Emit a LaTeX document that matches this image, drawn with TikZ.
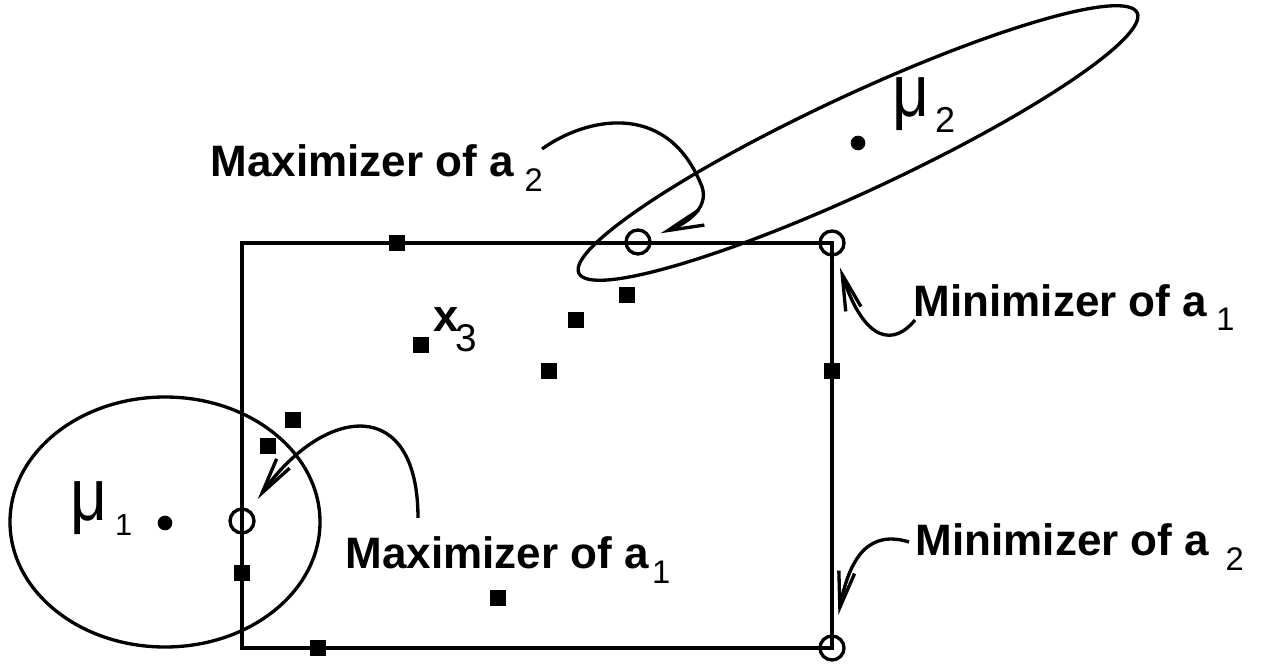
\documentclass[tikz,border=0pt]{standalone}
\usepackage{fontspec}
\setmainfont{Liberation Sans}
\usepackage{graphicx}
\usepackage{tikz}
\usetikzlibrary{arrows.meta}
\tikzset{%
    sample/.style={%
        rectangle, fill=black, minimum size=12pt, inner sep=0pt
    },
    hollow/.style={%
        circle, draw=black, minimum size=18pt, inner sep=0pt
    },
    centre/.style={%
        circle, fill=black, minimum size=11pt, inner sep=0pt
    },
    lbl/.style={%
        anchor=base west, inner sep=0pt, font=\fontsize{33}{36}\selectfont\bfseries
    },
    mulbl/.style={%
        anchor=base west, inner sep=0pt, font=\fontsize{48}{52}\selectfont
    },
    pointer/.style={%
        -{Straight Barb[length=27pt,width=12pt]}
    }
}
\newcommand{\subnum}[4][24.5]{\hspace{#2}\raisebox{-#3}{\fontsize{#1}{#1}\selectfont\mdseries #4}}

\begin{document}
\begin{tikzpicture}[x=0.75pt, y=-0.75pt, line width=2.5pt]
    \useasboundingbox (0,0) rectangle (1266,666);

    % box and the two level sets
    \draw (242,243) rectangle (832,648);
    \draw (165,522) ellipse [x radius=155, y radius=125];
    \draw [rotate around={25:(858,143)}] (858,143) ellipse [x radius=308, y radius=48];

    \node[centre] (mu1) at (165,523) {};
    \node[centre] (mu2) at (858,143) {};
    \node[mulbl] (mu1lbl) at (68.5,520) {\scalebox{1}[1.15]{μ}\subnum[23]{6pt}{11.5pt}{1}};
    \node[mulbl] (mu2lbl) at (890.5,117) {\scalebox{1}[1.15]{μ}\subnum[27]{4.5pt}{11.5pt}{2}};

    % samples
    \foreach \px/\py [count=\i] in {397/243, 627/295, 576/320, 549/371, 421/345, 293/420, 268/446, 242/573, 318/648, 498/598, 832/371}
        \node[sample] (x\i) at (\px,\py) {};
    \node[lbl, font=\fontsize{34}{36}\selectfont\bfseries] (x3lbl) at (432,332) {x\subnum[29]{-2.5pt}{14.25pt}{3}};

    \node[hollow] (max1) at (242,521) {};
    \node[hollow] (max2) at (638,242) {};
    \node[hollow] (min1) at (832,243) {};
    \node[hollow] (min2) at (832,648) {};

    \node[lbl] (max2lbl) at (209,177) {Maximizer of a\subnum{8pt}{11.25pt}{2}};
    \node[lbl] (max1lbl) at (344,568) {Maximizer of a\subnum{2.5pt}{11.25pt}{1}};
    \node[lbl] (min1lbl) at (912,317) {Minimizer of a\subnum{7pt}{9.75pt}{1}};
    \node[lbl] (min2lbl) at (914,555) {Minimizer of a\subnum{12.5pt}{11.25pt}{2}};

    \coordinate (max2from) at (542,149);
    \coordinate (max1from) at (418,518);
    \coordinate (min1from) at (915,320);
    \coordinate (min2from) at (909,542);

    \draw[pointer, shorten >=8pt] (max2from) .. controls (585,118) and (665,100) .. (700,182) .. controls (712,205) and (690,222) .. (max2);
    \draw[pointer, shorten >=10pt] (max1from) .. controls (418,395) and (325,405) .. (max1);
    \draw[pointer, shorten >=9pt] (min1from) .. controls (895,345) and (865,345) .. (min1);
    \draw[pointer, shorten >=15pt] (min2from) .. controls (870,530) and (850,555) .. (min2);
\end{tikzpicture}
\end{document}
